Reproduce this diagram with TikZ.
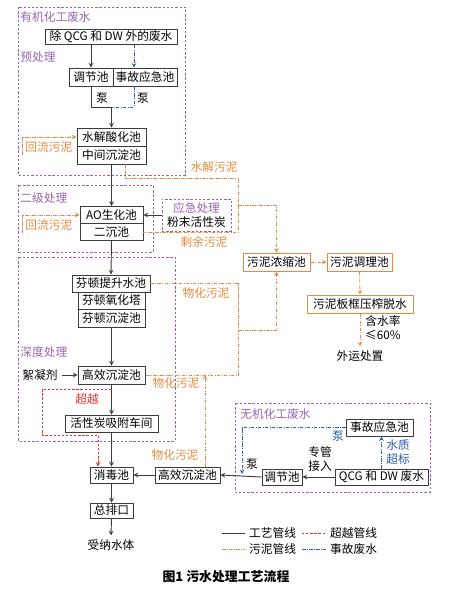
\documentclass[tikz,border=0pt]{standalone}
\usepackage{fontspec}
\newfontfamily\cjk{Noto Sans CJK SC}
\definecolor{zonecol}{RGB}{150,100,175}
\definecolor{sludgecol}{RGB}{226,138,62}
\definecolor{accicol}{RGB}{45,90,165}
\definecolor{bypasscol}{RGB}{225,50,50}
\definecolor{boxcol}{RGB}{60,60,60}

\begin{document}
\begin{tikzpicture}[x=0.3mm, y=-0.3mm,
  every node/.style={font=\cjk\fontsize{10}{12}\selectfont},
  box/.style={rectangle, draw=boxcol, line width=0.8pt, fill=white,
              inner sep=0pt, align=center},
  sbox/.style={rectangle, draw=sludgecol, line width=0.8pt, fill=white,
               inner sep=0pt, align=center},
  zone/.style={draw=zonecol, line width=0.7pt, dash pattern=on 2pt off 1.6pt},
  zbox/.style={rectangle, zone, fill=white, inner sep=0pt, align=center},
  ztext/.style={text=zonecol, anchor=west, inner sep=1pt},
  stext/.style={text=sludgecol, inner sep=1pt},
  pipe/.style={line width=0.8pt, boxcol},
  arr/.style={->, >=stealth, line width=0.8pt, boxcol},
  sline/.style={line width=0.7pt, sludgecol,
                dash pattern=on 3pt off 1.2pt on 0.6pt off 1.2pt},
  sarr/.style={sline, ->, >=stealth},
  bline/.style={line width=0.7pt, accicol,
                dash pattern=on 3pt off 1.2pt on 0.6pt off 1.2pt},
  barr/.style={bline, ->, >=stealth},
  rline/.style={line width=0.7pt, bypasscol, dash pattern=on 2pt off 1.5pt},
  rarr/.style={rline, ->, >=stealth},
]
\useasboundingbox (0,0) rectangle (461,592);

% Zones
\draw[zone] (18,7) rectangle (185,175);
\node[ztext] (LZ1) at (19,17) {有机化工废水};
\node[ztext] (LZ2) at (19,57) {预处理};
\draw[zone] (18,185) rectangle (153,252);
\node[ztext] (LZ3) at (19,198) {二级处理};
\draw[zone] (18,257) rectangle (175,441);
\node[ztext] (LZ4) at (19,352) {深度处理};
\draw[zone] (235,403) rectangle (430,492);
\node[ztext] (LZ5) at (239,414) {无机化工废水};

% Pretreatment
\node[box, minimum width=39.6mm, minimum height=4.5mm] (W1) at (111,37) {除 QCG 和 DW 外的废水};
\node[box, minimum width=13.2mm, minimum height=5.4mm] (T1) at (91,77) {调节池};
\node[box, minimum width=19.2mm, minimum height=5.4mm] (E1) at (145,77) {事故应急池};
\node[box, minimum width=20.7mm, minimum height=5.4mm] (H1) at (111.5,137) {水解酸化池};
\node[box, minimum width=20.7mm, minimum height=5.4mm] (M1) at (111.5,155) {中间沉淀池};
\node (P1) at (102,98) {泵};
\node (P2) at (143,98) {泵};

\coordinate (bx) at (134,0);
\coordinate (j1) at (111.5,107);
\draw[arr] (W1.south -| T1) -- (T1.north);
\draw[barr] (W1.south -| bx) -- (E1.north -| bx);
\draw[pipe] (T1.south) |- (j1);
\draw[bline] (E1.south -| bx) |- (j1);
\draw[arr] (j1) -- (H1.north);

\coordinate (r1) at (22,155);
\draw[sarr] (r1) |- (H1.west);
\node[stext, anchor=west] (LR1) at (24,147) {回流污泥};

% Secondary treatment
\node[box, minimum width=18.9mm, minimum height=5.1mm] (AO) at (111.5,215) {AO生化池};
\node[box, minimum width=18.9mm, minimum height=5.1mm] (EC) at (111.5,232) {二沉池};
\node[zbox, minimum width=20.7mm, minimum height=9.6mm] (YJ) at (196.5,215) {\textcolor{zonecol}{应急处理}\\粉末活性炭};
\draw[arr] (M1.south) -- (AO.north);
\draw[arr] (YJ.west) -- (AO.east);

\coordinate (r2) at (22,233);
\draw[sarr] (r2) |- (AO.west);
\node[stext, anchor=west] (LR2) at (24,225) {回流污泥};

% Sludge treatment
\node[sbox, minimum width=20.1mm, minimum height=5.4mm] (SC) at (276.5,262) {污泥浓缩池};
\node[sbox, minimum width=19.5mm, minimum height=5.4mm] (ST) at (359.5,262) {污泥调理池};
\node[sbox, minimum width=31.8mm, minimum height=5.4mm] (SY) at (360,304) {污泥板框压榨脱水};
\node (WY) at (360,356) {外运处置};
\node[align=center] (HSL) at (383,328) {含水率\\≤60\%};
\draw[sarr] (SC.east) -- (ST.west);
\draw[sarr] (ST.south) -- (SY.north);
\draw[sarr] (SY.south) -- (WY.north);

% Sludge from hydrolysis and secondary settling
\coordinate (s1) at (125,164);
\coordinate (s2) at (238,178);
\coordinate (s3) at (238,205);
\coordinate (s4) at (238,232);
\draw[sline] (s1) |- (s2) -- (s4) -- (EC.east);
\draw[sarr] (s3) -| (SC.north);
\node[stext] (LS1) at (214,167) {水解污泥};
\node[stext] (LS2) at (204,242) {剩余污泥};

% Advanced treatment
\node[box, minimum width=23.4mm, minimum height=5.1mm] (F1) at (111,283.5) {芬顿提升水池};
\node[box, minimum width=20.1mm, minimum height=5.1mm] (F2) at (111.5,300.5) {芬顿氧化塔};
\node[box, minimum width=20.1mm, minimum height=5.4mm] (F3) at (111.5,318) {芬顿沉淀池};
\node[box, minimum width=20.1mm, minimum height=5.4mm] (HS1) at (111.5,375) {高效沉淀池};
\node (XN) at (40,375) {絮凝剂};
\node[box, minimum width=27.9mm, minimum height=5.1mm] (AC) at (111.5,423.5) {活性炭吸附车间};
\draw[arr] (EC.south) -- (F1.north);
\draw[arr] (F3.south) -- (HS1.north);
\draw[arr] (XN.east) -- (HS1.west);
\draw[arr] (HS1.south) -- (AC.north);

% Outlet
\node[box, minimum width=12.9mm, minimum height=4.8mm] (XD) at (111.5,475) {消毒池};
\node[box, minimum width=19.5mm, minimum height=4.8mm] (HS2) at (187.5,475) {高效沉淀池};
\node[box, minimum width=12.9mm, minimum height=4.5mm] (ZP) at (111.5,510.5) {总排口};
\node (SN) at (111,545) {受纳水体};
\draw[arr] (AC.south) -- (XD.north);
\draw[arr] (HS2.west) -- (XD.east);
\draw[arr] (XD.south) -- (ZP.north);
\draw[arr] (ZP.south) -- (SN.north);

% Bypass
\coordinate (c1) at (111.5,389);
\coordinate (c2) at (42,435);
\coordinate (c3) at (98,0);
\draw[rarr] (c1) -| (c2) -| (XD.north -| c3);
\node[text=bypasscol] (LB) at (87,399) {超越};

% Physico-chemical sludge
\coordinate (p2) at (238,375);
\coordinate (p3) at (238,330);
\coordinate (p4) at (205,375);
\draw[sline] (F1.east) -| (p2) -- (HS1.east);
\draw[sarr] (p3) -| (SC.south);
\draw[sarr] (HS2.north -| p4) -- (p4);
\node[stext] (LW1) at (206,293) {物化污泥};
\node[stext] (LW2) at (176,383) {物化污泥};
\node[stext] (LW3) at (175,455) {物化污泥};

% Inorganic wastewater
\node[box, minimum width=20.1mm, minimum height=5.1mm] (E2) at (379.5,427.5) {事故应急池};
\node[box, minimum width=27.9mm, minimum height=4.8mm] (QD) at (381.5,477) {QCG 和 DW 废水};
\node[box, minimum width=12mm, minimum height=4.8mm] (T2) at (282,477) {调节池};
\node[align=center] (ZG) at (320,459) {专管\\接入};
\node[align=center, text=accicol] (SZ) at (398,452) {水质\\超标};
\node[text=accicol] (P3) at (338,436) {泵};
\node (P4) at (252,464) {泵};
\coordinate (b2) at (242,474);
\draw[arr] (QD.west) -- (T2.east);
\draw[arr] (T2.west) -- (HS2.east);
\draw[barr] (QD.north) -- (QD.north |- E2.south);
\draw[barr] (E2.west) -| (b2);

% Legend
\coordinate (g1) at (222,533);
\coordinate (g2) at (302,533);
\coordinate (g3) at (222,549);
\coordinate (g4) at (302,549);
\node[anchor=west] (G1) at (245,533) {工艺管线};
\node[anchor=west] (G2) at (326,533) {超越管线};
\node[anchor=west] (G3) at (245,549) {污泥管线};
\node[anchor=west] (G4) at (326,549) {事故废水};
\draw[pipe] (g1) -- (G1.west);
\draw[rline] (g2) -- (G2.west);
\draw[sline] (g3) -- (G3.west);
\draw[bline] (g4) -- (G4.west);

% Caption
\node[font=\cjk\bfseries\fontsize{11}{13}\selectfont] (CAP) at (226,577) {图1 污水处理工艺流程};

\end{tikzpicture}
\end{document}
